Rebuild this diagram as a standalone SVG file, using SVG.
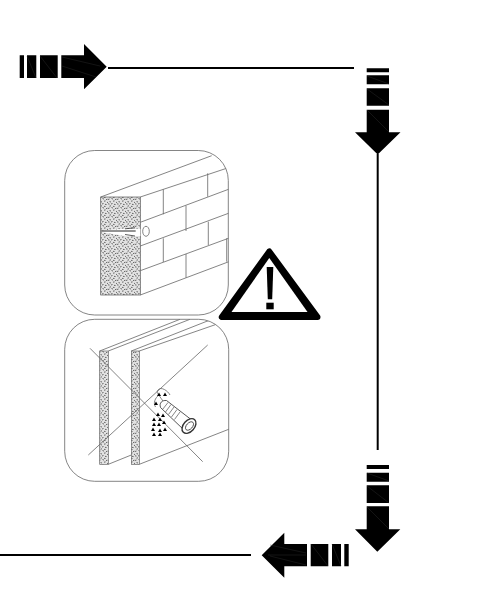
<svg xmlns="http://www.w3.org/2000/svg" width="492" height="596" viewBox="0 0 492 596">
<style>
.l{fill:none;stroke:#666;stroke-width:.8}
.b{fill:#000;stroke:none}
.a{fill:none;stroke:#333;stroke-width:.4}
.c{fill:none;stroke:#000;stroke-width:2}
</style>
<defs>
<pattern id="st" width="9" height="9" patternUnits="userSpaceOnUse">
<rect width="9" height="9" fill="#e2e2e2"/>
<path d="M0 1.500l1.500-.5M3.500 .5l1.500 .6M7 1.600l1.500-.4M1.500 3.600l1.500 .4M5 3.200l1.600-.3M8 4.300l1 .2M0 5.800l1.500 .3M3 6l1.500-.5M6 6.300l1.600 .3M1.500 8.200l1.500-.4M5 8.300l1.500 .2" stroke="#444" stroke-width=".8" fill="none"/>
</pattern>
<clipPath id="p1"><rect x="64.700" y="150.500" width="163.600" height="164.500" rx="30"/></clipPath>
<clipPath id="p2"><rect x="64.700" y="319.300" width="164" height="162" rx="30"/></clipPath>
</defs>
<g id="connectors">
<path class="c" d="M108 68H354"/>
<path class="c" d="M377.700 154V450"/>
<path class="c" d="M0 555H251"/>
</g>
<g id="arrow-top">
<path class="b" d="M19.700 55.300H24V78H19.700ZM27 55.300H36.300V78H27ZM40 55.300H57.700V78H40ZM61.300 55.300H84V44L106.700 66.700L84 89.300V78H61.300Z"/>
<path class="a" d="M27 56L36 78M40 56L57 78M62 57L100 66M62 66L96 77"/>
</g>
<g id="arrow-down-1">
<path class="b" d="M366.700 68.300H389V72.300H366.700ZM366.700 75.300H389V84.300H366.700ZM366.700 88.300H389V105.700H366.700ZM366.700 109.700H389V132.300H400.500L377.700 154.500L355 132.300H366.700Z"/>
<path class="a" d="M367 76L389 84M367 89L389 105M367 110L389 132"/>
</g>
<g id="arrow-down-2">
<path class="b" d="M366.700 465H389V469H366.700ZM366.700 472.700H389V481.700H366.700ZM366.700 485.300H389V503H366.700ZM366.700 506.300H389V529.300H400.300L377.300 551.700L355 529.300H366.700Z"/>
<path class="a" d="M367 473L389 481M367 486L389 503M367 507L389 529"/>
</g>
<g id="arrow-left">
<path class="b" d="M348.700 544H344.300V566.300H348.700ZM341 544H332V566.300H341ZM328.300 544H310.700V566.300H328.300ZM307 544H284.300V532.700L261.700 555.300L284.300 577.700V566.300H307Z"/>
<path class="a" d="M332 544L341 566M311 544L328 566M306 553L270 545M306 555H268M306 565L270 556"/>
</g>
<g id="panel-wall">
<rect class="l" x="64.700" y="150.500" width="163.600" height="164.500" rx="30"/>
<rect x="100.700" y="197" width="39.600" height="98" fill="url(#st)" stroke="#555" stroke-width=".7"/>
<path d="M125 228.800H140.300V236H125L101 232V230.500Z" fill="#fff"/>
<path d="M101 231H135.700" stroke="#111" stroke-width=".9" fill="none"/>
<path d="M125 228.800L135 227.800M125 234.500L135 236" stroke="#333" stroke-width=".8" fill="none"/>
<g clip-path="url(#p1)">
<path class="l" d="M100.700 197L211.700 155.700M140.300 197L232 166.500M140.300 222.300L232 188M140.300 246L232 212M140.300 270.700L232 237M140.300 295L232 260.500M163.300 189.300V214.300M207.700 173.300V196.700M186 205.700V231M208.300 221.700V245M163.300 238.300V262M186 254V277.700M226.700 238.300V261.700"/>
</g>
<ellipse class="l" cx="146" cy="231.300" rx="3.300" ry="5"/>
</g>
<g id="warning">
<path d="M269.300 251.500L221.800 317H317.500Z" fill="#000" stroke="#000" stroke-width="6" stroke-linejoin="round"/>
<path d="M269.300 258L231.500 312H307.500Z" fill="#fff"/>
<path class="b" d="M266.700 267H273.300L272.200 299.300H267.800Z"/>
<rect class="b" x="266.300" y="302.700" width="7.400" height="6.600"/>
</g>
<g id="panel-anchor">
<rect class="l" x="64.700" y="319.300" width="164" height="162" rx="30"/>
<rect x="99.700" y="351" width="8.600" height="113.300" fill="url(#st)" stroke="#555" stroke-width=".6"/>
<rect x="131.300" y="351" width="8" height="113.300" fill="url(#st)" stroke="#555" stroke-width=".6"/>
<g clip-path="url(#p2)">
<path class="l" d="M99.700 351L180 319.300M108.300 351L190 319.300M131.300 351L210 320M139.300 351L223 322M108.300 464.300L131.300 455M139.300 464.300L232 428"/>
</g>
<path class="l" d="M90 348.300L202.700 461.700M88.300 455L207.700 345"/>
<path d="M163 401C158 394 156 392 158 390C161 386 168 391 170 395" class="l"/>
<path d="M155.500 407C153 403 155 398 159 395" class="l"/>
<path d="M166.500 400.500L193 421L184.500 430.500L160.500 407.500C159 403 162 400 166.500 400.500Z" fill="#fff" stroke="#444" stroke-width=".9"/>
<ellipse cx="189" cy="426" rx="8.500" ry="5.500" transform="rotate(-48 189 426)" fill="#fff" stroke="#333" stroke-width="1.400"/>
<ellipse cx="189.500" cy="426" rx="5" ry="3" transform="rotate(-48 189.500 426)" fill="#fff" stroke="#444" stroke-width=".9"/>
<path class="l" d="M168 402.500L162.500 409.500M171 404.500L165.500 412M174 407L168.500 414.500M177 409.500L171.500 417M180 412L174.500 419.500"/>
<path class="b" d="M157 396l2-3.500 2 3.500zM163 396l2-3.500 2 3.500zM154 405l2-3.500 2 3.500zM156 416l2-3.500 2 3.500zM152 421l2-3.500 2 3.500zM158 421l2-3.500 2 3.500zM161 417l2-3.500 2 3.500zM152 426l2-3.500 2 3.500zM157 426l2-3.500 2 3.500zM162 424l2-3.500 2 3.500zM151 431l2-3.500 2 3.500zM158 432l2-3.500 2 3.500zM163 431l2-3.500 2 3.500zM152 436l2-3.500 2 3.500zM158 436l2-3.500 2 3.500z"/>
</g>
</svg>
